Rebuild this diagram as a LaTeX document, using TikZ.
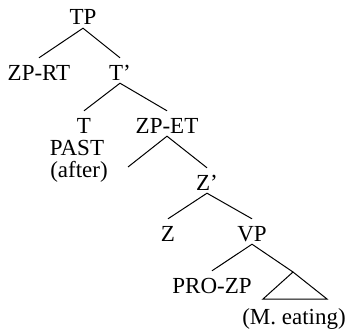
\documentclass[tikz,border=0pt]{standalone}
\usepackage{fontspec}
\setmainfont{LiberationSerif}[Extension=.ttf,UprightFont=*-Regular,BoldFont=*-Bold,ItalicFont=*-Italic]
\begin{document}
\begin{tikzpicture}[x=1pt,y=1pt,
  lab/.style={anchor=base,inner xsep=0pt,inner ysep=3pt,text height=19pt,text depth=0pt,font=\fontsize{23}{27}\selectfont},
  txt/.style={anchor=base,inner sep=0pt,font=\fontsize{23}{27}\selectfont},
  br/.style={line width=1pt}]
\useasboundingbox (0,0) rectangle (350,-329);
\node[lab] (tp) at (83,-25) {TP};
\node[lab] (zprt) at (39,-80) {ZP-RT};
\node[lab] (tbar) at (120,-80) {T’};
\node[lab] (t) at (84,-133) {T};
\node[txt] (past) at (77,-155) {PAST};
\node[txt] (after) at (79,-177) {(after)};
\node[lab] (zpet) at (167,-133) {ZP-ET};
\coordinate (spec) at (128,-167);
\node[lab] (zbar) at (207,-190) {Z’};
\node[lab] (z) at (168,-241) {Z};
\node[lab] (vp) at (252,-241) {VP};
\node[lab] (prozp) at (212,-293) {PRO-ZP};
\coordinate (apex) at (293,-272);
\coordinate (bl) at (263,-299);
\coordinate (brt) at (327,-299);
\node[txt] (eat) at (294,-324) {(M. eating)};
\draw[br] (zprt.north) -- (tp.south) -- (tbar.north);
\draw[br] (t.north) -- (tbar.south) -- (zpet.north);
\draw[br] (spec) -- (zpet.south) -- (zbar.north);
\draw[br] (z.north) -- (zbar.south) -- (vp.north);
\draw[br] (prozp.north) -- (vp.south) -- (apex);
\draw[br] (apex) -- (bl) -- (brt) -- cycle;
\end{tikzpicture}
\end{document}
